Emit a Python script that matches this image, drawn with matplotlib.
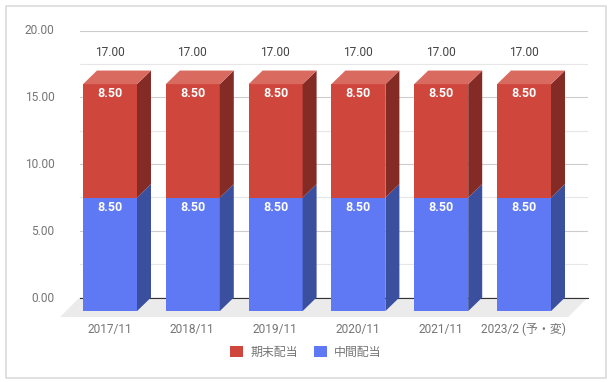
import matplotlib
matplotlib.use("Agg")
import matplotlib.pyplot as plt
import numpy as np
from matplotlib.patches import Patch, Polygon, Rectangle
from matplotlib.ticker import FixedLocator, FuncFormatter
from matplotlib.transforms import Affine2D

plt.rcParams['font.family'] = ['Roboto', 'Noto Sans CJK JP', 'DejaVu Sans']

categories = ['2017/11', '2018/11', '2019/11', '2020/11', '2021/11', '2023/2 (予・変)']
interim = [8.5, 8.5, 8.5, 8.5, 8.5, 8.5]
year_end = [8.5, 8.5, 8.5, 8.5, 8.5, 8.5]
totals = [17.0, 17.0, 17.0, 17.0, 17.0, 17.0]

W, H, DPI = 612, 382, 100
L, R, T, B = 79.5, 587.7, 30.5, 297.5   # back plane, px
STEP, BAR_W, FIRST = 82.8, 54.0, 124.0  # px
DEPTH_X = 14.0
DEPTH_Y = 13.6
FLOOR = 19.5

fig = plt.figure(figsize=(W / DPI, H / DPI), dpi=DPI, facecolor='white')
fig.add_artist(Rectangle((5.5 / W, 1 - 377.5 / H), 600.5 / W, 372 / H, transform=fig.transFigure,
                         fc='white', ec='#D9D9D9', lw=1.1, zorder=-1))
ax = fig.add_axes([L / W, 1 - B / H, (R - L) / W, (B - T) / H], facecolor='none')
ax.set_xlim((L - FIRST) / STEP, (R - FIRST) / STEP)
ax.set_ylim(0, 20)
for s in ax.spines.values():
    s.set_visible(False)

dx = DEPTH_X / STEP
dy = DEPTH_Y / ((B - T) / 20)
w = BAR_W / STEP
x = np.arange(len(categories))

# floor
fpx = FLOOR / (R - L)
fpy = FLOOR / (B - T)
ax.add_patch(Polygon([(0, 0), (1, 0), (1 - fpx, -fpy), (-fpx, -fpy)], closed=True, transform=ax.transAxes,
                     fc='#EBEBEB', ec='none', clip_on=False, zorder=0.5))

ax.yaxis.set_major_locator(FixedLocator([0, 5, 10, 15, 20]))
ax.yaxis.set_minor_locator(FixedLocator([2.5, 7.5, 12.5, 17.5]))
ax.yaxis.set_major_formatter(FuncFormatter(lambda v, _: f'{v:.2f}'))
ax.grid(True, which='major', axis='y', color='#CCCCCC', lw=0.8, zorder=1)
ax.grid(True, which='minor', axis='y', color='#E6E6E6', lw=0.8, zorder=1)
ax.set_axisbelow(True)
ax.tick_params(axis='y', which='both', length=0, pad=18, labelsize=8.6, labelcolor='#757575')
ax.set_xticks(x - dx, categories)
ax.tick_params(axis='x', length=0, pad=18, labelsize=8.6, labelcolor='#757575')
ax.axhline(0, color='#333333', lw=0.8, zorder=1.5, clip_on=False)
for label in ax.get_yticklabels():
    label.set_transform(label.get_transform() + Affine2D().translate(0, 1))
for label in ax.get_xticklabels():
    label.set_transform(label.get_transform() + Affine2D().translate(-0.5, 0))


def segment(xi, bottom, height, front, side, top):
    x0 = xi - w / 2 - dx
    x1 = xi + w / 2 - dx
    y0 = bottom - dy
    y1 = bottom + height - dy
    ax.bar(xi - dx, height, w, bottom=y0, color=front, clip_on=False, zorder=3, lw=0)
    ax.add_patch(Polygon([(x1, y0), (x1 + dx, y0 + dy), (x1 + dx, y1 + dy), (x1, y1)], closed=True,
                         fc=side, ec='none', clip_on=False, zorder=3))
    if top:
        ax.add_patch(Polygon([(x0, y1), (x1, y1), (x1 + dx, y1 + dy), (x0 + dx, y1 + dy)], closed=True,
                             fc=top, ec='none', clip_on=False, zorder=3))


for i, xi in enumerate(x):
    segment(xi, 0, interim[i], '#5E79F3', '#3B4F9F', None)
    segment(xi, interim[i], year_end[i], '#CF463C', '#852B26', '#D96A60')
    ax.annotate(f'{interim[i]:.2f}', (xi - dx, interim[i] - dy), xytext=(0, -6.8), textcoords='offset points',
                ha='center', va='center', color='#FFFFFF', fontsize=9, fontweight='bold', zorder=5, annotation_clip=False)
    ax.annotate(f'{year_end[i]:.2f}', (xi - dx, interim[i] + year_end[i] - dy), xytext=(0, -6.8), textcoords='offset points',
                ha='center', va='center', color='#FFFFFF', fontsize=9, fontweight='bold', zorder=5, annotation_clip=False)
    ax.annotate(f'{totals[i]:.2f}', (xi - dx, totals[i]), xytext=(-0.4, 13.0), textcoords='offset points',
                ha='center', va='center', color='#444444', fontsize=8.6, zorder=5, annotation_clip=False,
                bbox=dict(fc='white', ec='none', pad=1.5))

handles = [Patch(fc='#CF463C', ec='none', label='期末配当'), Patch(fc='#5E79F3', ec='none', label='中間配当')]
fig.legend(handles=handles, loc='center', bbox_to_anchor=(306 / W, 1 - 352 / H), ncols=2, frameon=False,
           fontsize=8.6, labelcolor='#757575', handlelength=1.05, handleheight=1.05, handletextpad=0.6,
           columnspacing=1.4, borderpad=0)

fig.savefig('out.png', dpi=DPI, facecolor='white')
